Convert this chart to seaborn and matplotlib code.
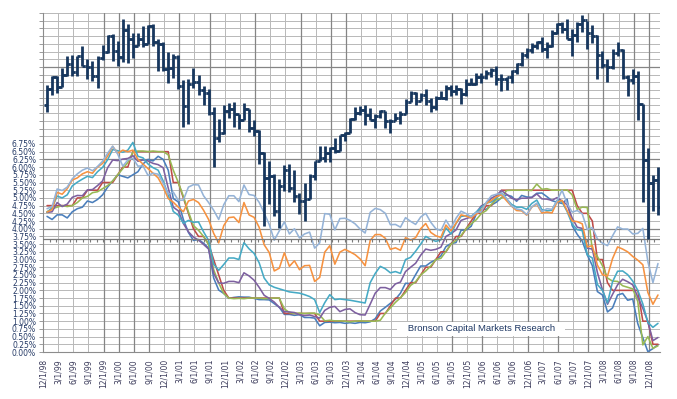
import seaborn as sns
import matplotlib.pyplot as plt
import pandas as pd, numpy as np

## ____ data (month-end values, Dec 1998 .. Jan 2009)
months = pd.date_range("1998-12-01", periods=122, freq="MS")

tbill_3m = [4.40,
    4.30, 4.45, 4.45, 4.35, 4.55, 4.65, 4.70, 4.90, 4.85, 4.95, 5.10, 5.35,
    5.55, 5.75, 5.70, 5.65, 5.75, 5.85, 6.10, 6.25, 6.20, 6.35, 6.25, 5.90,
    4.98, 4.87, 4.30, 3.88, 3.62, 3.65, 3.53, 3.37, 2.40, 2.01, 1.90, 1.74,
    1.77, 1.79, 1.78, 1.78, 1.74, 1.70, 1.70, 1.69, 1.57, 1.45, 1.22, 1.22,
    1.19, 1.21, 1.12, 1.12, 1.10, 0.85, 0.96, 0.97, 0.95, 0.96, 0.93, 0.95,
    0.93, 0.96, 0.95, 0.98, 1.08, 1.33, 1.45, 1.58, 1.71, 1.91, 2.23, 2.22,
    2.51, 2.79, 2.79, 2.91, 2.99, 3.12, 3.42, 3.52, 3.55, 3.95, 3.96, 4.08,
    4.47, 4.62, 4.63, 4.77, 4.86, 5.01, 5.10, 5.05, 4.89, 5.08, 5.03, 5.02,
    5.15, 5.16, 5.04, 4.91, 4.86, 4.82, 4.96, 4.10, 3.82, 3.60, 3.15, 2.80,
    1.96, 1.85, 1.30, 1.43, 1.85, 1.90, 1.68, 1.72, 0.92, 0.46, 0.01, 0.11,
    0.24]

fed_target = [4.75,
    4.75, 4.75, 4.75, 4.75, 4.75, 5.00, 5.00, 5.25, 5.25, 5.25, 5.50, 5.50,
    5.50, 5.75, 6.00, 6.00, 6.50, 6.50, 6.50, 6.50, 6.50, 6.50, 6.50, 6.50,
    5.50, 5.50, 5.00, 4.50, 4.00, 3.75, 3.75, 3.50, 3.00, 2.50, 2.00, 1.75,
    1.75, 1.75, 1.75, 1.75, 1.75, 1.75, 1.75, 1.75, 1.75, 1.75, 1.25, 1.25,
    1.25, 1.25, 1.25, 1.25, 1.25, 1.00, 1.00, 1.00, 1.00, 1.00, 1.00, 1.00,
    1.00, 1.00, 1.00, 1.00, 1.00, 1.25, 1.25, 1.50, 1.75, 1.75, 2.00, 2.25,
    2.25, 2.50, 2.75, 2.75, 3.00, 3.25, 3.25, 3.50, 3.75, 3.75, 4.00, 4.25,
    4.50, 4.50, 4.75, 4.75, 5.00, 5.25, 5.25, 5.25, 5.25, 5.25, 5.25, 5.25,
    5.25, 5.25, 5.25, 5.25, 5.25, 5.25, 5.25, 5.25, 4.75, 4.50, 4.50, 4.25,
    3.00, 3.00, 2.25, 2.00, 2.00, 2.00, 2.00, 2.00, 2.00, 1.00, 1.00, 0.25,
    0.25]

fed_eff = [4.55,
    4.65, 4.70, 4.75, 4.72, 4.75, 4.85, 5.00, 5.05, 5.17, 5.20, 5.30, 5.40,
    5.55, 5.75, 5.95, 6.15, 6.48, 6.52, 6.52, 6.50, 6.52, 6.50, 6.50, 6.40,
    5.90, 5.50, 5.05, 4.55, 4.10, 3.95, 3.75, 3.49, 2.67, 2.24, 1.90, 1.75,
    1.73, 1.74, 1.73, 1.75, 1.75, 1.75, 1.73, 1.74, 1.75, 1.75, 1.40, 1.28,
    1.25, 1.26, 1.25, 1.26, 1.26, 1.20, 1.01, 1.03, 1.01, 1.01, 1.00, 0.98,
    1.00, 1.01, 1.00, 1.00, 1.00, 1.03, 1.26, 1.43, 1.61, 1.76, 1.93, 2.16,
    2.28, 2.50, 2.63, 2.79, 3.00, 3.04, 3.26, 3.50, 3.62, 3.78, 4.00, 4.16,
    4.29, 4.49, 4.59, 4.79, 4.94, 4.99, 5.24, 5.25, 5.25, 5.25, 5.25, 5.24,
    5.45, 5.28, 5.30, 5.25, 5.25, 5.25, 5.26, 5.10, 4.63, 4.70, 4.69, 3.30,
    3.10, 2.80, 2.40, 2.30, 2.29, 2.15, 2.10, 2.05, 1.64, 0.23, 0.50, 0.12,
    0.20]

tsy_1y = [4.53,
    4.55, 4.85, 4.72, 4.80, 5.02, 5.08, 5.07, 5.26, 5.27, 5.40, 5.55, 5.98,
    6.23, 6.21, 6.26, 6.28, 6.37, 6.19, 6.23, 6.20, 6.12, 6.08, 5.98, 5.32,
    4.70, 4.58, 4.17, 3.90, 3.73, 3.63, 3.49, 3.34, 2.55, 2.24, 2.23, 2.29,
    2.29, 2.25, 2.57, 2.47, 2.33, 2.10, 1.84, 1.74, 1.62, 1.45, 1.31, 1.30,
    1.28, 1.21, 1.18, 1.20, 1.15, 1.10, 1.35, 1.45, 1.48, 1.31, 1.38, 1.40,
    1.28, 1.21, 1.20, 1.55, 1.91, 2.09, 2.09, 2.03, 2.21, 2.27, 2.61, 2.75,
    2.88, 3.14, 3.34, 3.30, 3.33, 3.40, 3.75, 3.84, 3.96, 4.27, 4.33, 4.38,
    4.52, 4.74, 4.82, 4.99, 5.08, 5.24, 5.12, 4.99, 4.94, 4.99, 4.99, 5.01,
    5.13, 4.97, 4.96, 4.92, 5.01, 4.90, 4.78, 4.35, 4.05, 4.01, 3.37, 3.34,
    2.58, 2.02, 1.55, 1.87, 2.18, 2.36, 2.28, 2.18, 1.78, 1.42, 0.98, 0.37,
    0.47]

tsy_2y = [4.53,
    4.68, 5.06, 5.00, 5.10, 5.39, 5.51, 5.61, 5.70, 5.66, 5.85, 5.99, 6.24,
    6.57, 6.53, 6.48, 6.55, 6.80, 6.35, 6.30, 6.10, 5.98, 5.90, 5.55, 5.10,
    4.56, 4.44, 4.18, 4.27, 4.21, 4.22, 3.90, 3.62, 2.85, 2.65, 2.84, 3.05,
    3.05, 3.00, 3.55, 3.35, 3.20, 2.90, 2.40, 2.18, 2.10, 2.05, 2.00, 1.95,
    1.93, 1.91, 1.86, 1.80, 1.70, 1.28, 1.60, 1.86, 1.70, 1.72, 1.70, 1.68,
    1.65, 1.62, 1.59, 2.25, 2.55, 2.78, 2.70, 2.57, 2.61, 2.55, 3.00, 3.07,
    3.27, 3.50, 3.75, 3.66, 3.59, 3.64, 4.03, 3.83, 4.17, 4.40, 4.42, 4.40,
    4.54, 4.69, 4.83, 4.87, 4.99, 5.16, 4.97, 4.79, 4.70, 4.70, 4.63, 4.82,
    4.93, 4.62, 4.58, 4.60, 4.92, 4.87, 4.56, 4.15, 3.97, 3.94, 3.15, 3.05,
    2.19, 2.00, 1.59, 2.28, 2.62, 2.63, 2.51, 2.30, 2.00, 1.56, 0.96, 0.80,
    0.93]

tsy_5y = [4.54,
    4.62, 5.18, 5.12, 5.30, 5.58, 5.65, 5.78, 5.85, 5.80, 6.00, 6.12, 6.36,
    6.67, 6.45, 6.55, 6.50, 6.55, 6.25, 6.10, 5.95, 5.80, 5.65, 5.35, 4.98,
    4.86, 4.70, 4.55, 4.90, 4.95, 4.85, 4.60, 4.30, 3.85, 3.54, 4.10, 4.36,
    4.38, 4.20, 4.85, 4.45, 4.37, 4.05, 3.48, 3.23, 2.63, 2.72, 3.22, 2.78,
    2.96, 2.67, 2.80, 2.81, 2.29, 2.42, 3.24, 3.45, 2.85, 3.24, 3.33, 3.25,
    3.16, 3.02, 2.80, 3.62, 3.81, 3.81, 3.69, 3.33, 3.38, 3.30, 3.71, 3.63,
    3.71, 4.00, 4.17, 3.88, 3.77, 3.72, 4.12, 3.93, 4.18, 4.45, 4.41, 4.35,
    4.47, 4.60, 4.82, 4.92, 5.04, 5.10, 4.91, 4.73, 4.59, 4.58, 4.44, 4.70,
    4.80, 4.51, 4.54, 4.51, 4.86, 4.92, 4.59, 4.25, 4.23, 4.16, 3.41, 3.45,
    2.82, 2.51, 2.46, 3.03, 3.41, 3.34, 3.25, 3.10, 2.98, 2.83, 1.93, 1.55,
    1.85]

tsy_10y = [4.65,
    4.72, 5.29, 5.24, 5.35, 5.62, 5.78, 5.90, 5.97, 5.88, 6.02, 6.19, 6.45,
    6.68, 6.42, 6.03, 6.23, 6.29, 6.03, 6.04, 5.73, 5.80, 5.77, 5.48, 5.12,
    5.19, 4.92, 4.93, 5.35, 5.43, 5.42, 5.07, 4.85, 4.60, 4.30, 4.78, 5.07,
    5.07, 4.88, 5.42, 5.11, 5.08, 4.86, 4.51, 4.14, 3.63, 3.93, 4.22, 3.83,
    4.00, 3.70, 3.83, 3.89, 3.37, 3.54, 4.49, 4.47, 3.96, 4.33, 4.34, 4.27,
    4.16, 3.99, 3.86, 4.53, 4.66, 4.62, 4.50, 4.13, 4.14, 4.05, 4.36, 4.24,
    4.14, 4.38, 4.50, 4.21, 4.00, 3.94, 4.28, 4.02, 4.34, 4.57, 4.49, 4.39,
    4.53, 4.55, 4.86, 5.07, 5.12, 5.15, 4.99, 4.74, 4.64, 4.61, 4.46, 4.71,
    4.83, 4.56, 4.65, 4.63, 4.90, 5.25, 4.82, 4.54, 4.59, 4.48, 3.97, 4.04,
    3.67, 3.53, 3.45, 3.77, 4.06, 3.99, 3.99, 3.83, 3.85, 4.01, 2.93, 2.25,
    2.87]

# S&P 500 monthly bars
spx_open = [1163.6,
    1229.2, 1279.6, 1238.3, 1286.4, 1335.2, 1301.8, 1372.7, 1328.7, 1320.4, 1282.7, 1362.9, 1388.9,
    1469.3, 1394.5, 1366.4, 1498.6, 1452.4, 1420.6, 1454.6, 1430.8, 1517.7, 1436.5, 1429.4, 1315.0,
    1320.3, 1366.0, 1239.9, 1160.3, 1249.5, 1255.8, 1224.4, 1211.2, 1133.6, 1040.9, 1059.8, 1139.5,
    1148.1, 1130.2, 1106.7, 1147.4, 1076.9, 1067.1, 989.8, 911.6, 916.1, 815.3, 885.8, 936.3,
    879.8, 855.7, 841.2, 848.2, 916.9, 963.6, 974.5, 990.3, 1008.0, 996.0, 1050.7, 1058.2,
    1111.9, 1131.1, 1144.9, 1126.2, 1107.3, 1120.7, 1140.8, 1101.7, 1104.2, 1114.6, 1130.2, 1173.8,
    1211.9, 1181.3, 1203.6, 1180.6, 1156.9, 1191.5, 1191.3, 1234.2, 1220.3, 1228.8, 1207.0, 1249.5,
    1248.3, 1280.1, 1280.7, 1294.8, 1310.6, 1270.1, 1270.2, 1276.7, 1303.8, 1335.9, 1377.9, 1400.6,
    1418.3, 1438.2, 1406.8, 1420.9, 1482.4, 1530.6, 1503.4, 1455.3, 1474.0, 1526.8, 1549.4, 1481.1,
    1468.4, 1378.6, 1330.6, 1322.7, 1385.6, 1400.4, 1280.0, 1267.4, 1282.8, 1166.4, 968.8, 896.2,
    903.3]
spx_high = [1244.9,
    1283.0, 1283.6, 1316.6, 1371.6, 1375.9, 1372.9, 1420.3, 1357.4, 1351.0, 1373.1, 1422.0, 1473.1,
    1478.0, 1444.6, 1552.9, 1527.2, 1481.5, 1480.5, 1517.3, 1525.2, 1530.1, 1454.8, 1438.5, 1389.1,
    1383.4, 1376.4, 1267.4, 1269.3, 1315.9, 1286.6, 1239.8, 1226.3, 1155.4, 1110.6, 1163.4, 1173.6,
    1176.6, 1130.2, 1173.0, 1147.8, 1106.6, 1070.7, 994.5, 965.0, 924.0, 907.4, 951.6, 954.3,
    935.0, 864.6, 895.9, 924.2, 965.4, 1015.3, 1015.4, 1011.0, 1040.3, 1053.8, 1063.7, 1112.6,
    1155.4, 1159.0, 1163.2, 1150.6, 1127.7, 1146.3, 1140.8, 1109.1, 1131.5, 1142.1, 1188.5, 1217.9,
    1217.8, 1212.4, 1229.1, 1191.9, 1199.6, 1219.6, 1245.2, 1245.9, 1243.1, 1233.3, 1270.6, 1275.8,
    1294.9, 1297.6, 1310.9, 1318.2, 1326.7, 1290.7, 1280.4, 1307.9, 1340.3, 1389.5, 1407.9, 1431.8,
    1441.6, 1461.6, 1438.9, 1498.0, 1535.6, 1540.6, 1555.9, 1503.9, 1538.7, 1576.1, 1545.8, 1523.6,
    1471.8, 1396.0, 1359.7, 1404.6, 1440.2, 1404.1, 1285.3, 1313.2, 1303.0, 1167.0, 1007.5, 918.9,
    943.9]
spx_low = [1136.9,
    1205.5, 1211.9, 1234.7, 1282.2, 1281.4, 1281.4, 1328.0, 1268.7, 1263.0, 1233.7, 1354.0, 1387.4,
    1350.1, 1325.1, 1346.6, 1339.4, 1361.1, 1420.6, 1416.5, 1430.8, 1419.4, 1305.8, 1305.4, 1254.1,
    1274.6, 1228.9, 1081.2, 1091.9, 1232.0, 1203.0, 1165.5, 1124.9, 944.8, 1026.8, 1054.3, 1114.5,
    1081.7, 1074.4, 1106.7, 1063.5, 1048.8, 952.9, 775.7, 833.4, 800.2, 768.6, 872.1, 869.5,
    840.7, 806.3, 788.9, 847.8, 902.8, 963.6, 962.1, 960.8, 990.4, 996.0, 1031.2, 1058.2,
    1105.1, 1124.4, 1087.2, 1107.2, 1076.3, 1113.3, 1078.8, 1060.7, 1101.3, 1090.2, 1127.6, 1173.8,
    1163.8, 1180.0, 1163.7, 1136.2, 1146.2, 1188.3, 1183.6, 1201.1, 1205.4, 1168.2, 1201.1, 1246.6,
    1245.7, 1253.6, 1268.4, 1280.7, 1245.3, 1219.3, 1224.5, 1253.7, 1290.9, 1327.1, 1360.9, 1385.9,
    1403.9, 1389.1, 1364.0, 1416.4, 1476.7, 1484.2, 1454.3, 1370.6, 1439.3, 1489.6, 1406.1, 1435.7,
    1270.1, 1316.8, 1257.0, 1312.5, 1373.1, 1272.0, 1200.4, 1247.5, 1106.4, 839.8, 741.0, 815.7,
    804.5]
spx_close = [1229.2,
    1279.6, 1238.3, 1286.4, 1335.2, 1301.8, 1372.7, 1328.7, 1320.4, 1282.7, 1362.9, 1388.9, 1469.3,
    1394.5, 1366.4, 1498.6, 1452.4, 1420.6, 1454.6, 1430.8, 1517.7, 1436.5, 1429.4, 1315.0, 1320.3,
    1366.0, 1239.9, 1160.3, 1249.5, 1255.8, 1224.4, 1211.2, 1133.6, 1040.9, 1059.8, 1139.5, 1148.1,
    1130.2, 1106.7, 1147.4, 1076.9, 1067.1, 989.8, 911.6, 916.1, 815.3, 885.8, 936.3, 879.8,
    855.7, 841.2, 848.2, 916.9, 963.6, 974.5, 990.3, 1008.0, 996.0, 1050.7, 1058.2, 1111.9,
    1131.1, 1144.9, 1126.2, 1107.3, 1120.7, 1140.8, 1101.7, 1104.2, 1114.6, 1130.2, 1173.8, 1211.9,
    1181.3, 1203.6, 1180.6, 1156.9, 1191.5, 1191.3, 1234.2, 1220.3, 1228.8, 1207.0, 1249.5, 1248.3,
    1280.1, 1280.7, 1294.8, 1310.6, 1270.1, 1270.2, 1276.7, 1303.8, 1335.9, 1377.9, 1400.6, 1418.3,
    1438.2, 1406.8, 1420.9, 1482.4, 1530.6, 1503.4, 1455.3, 1474.0, 1526.8, 1549.4, 1481.1, 1468.4,
    1378.6, 1330.6, 1322.7, 1385.6, 1400.4, 1280.0, 1267.4, 1282.8, 1166.4, 968.8, 896.2, 903.3,
    825.9]

series_names = ["3M T-Bill", "Fed Funds Target", "Fed Funds Eff", "1Y", "2Y", "5Y", "10Y"]
series_vals = [tbill_3m, fed_target, fed_eff, tsy_1y, tsy_2y, tsy_5y, tsy_10y]
colors = ["#4A7EBB", "#BE4B48", "#98B954", "#7D60A0", "#46AAC5", "#F69240", "#95B3D7"]

## ____ style
sns.set_theme(style="white")
plt.rcParams["font.family"] = ["DejaVu Sans"]

fig = plt.figure(figsize=(6.77, 3.99), dpi=100)
ax = fig.add_axes([43 / 677, 47 / 399, 617 / 677, 339 / 399])

idx = np.arange(len(months))
df = pd.concat([pd.DataFrame({"m": idx, "rate": v, "series": n})
                for n, v in zip(series_names, series_vals)])

sns.lineplot(data=df, x="m", y="rate", hue="series", hue_order=series_names,
             palette=dict(zip(series_names, colors)), linewidth=1.15,
             legend=False, errorbar=None, ax=ax, zorder=3)

# axes / grid
ax.set_xlim(-0.8, 121.4)
ax.set_ylim(0, 11)
qpos = idx[::3] - 0.8
qlab = [f"{d.month}/1/{d.year % 100:02d}" for d in months[::3]]
ax.set_xticks(qpos)
ax.set_xticklabels(qlab, rotation=90, fontsize=5.5, color="#3a3a5a")
yt = np.arange(0, 11.01, 0.25)
ax.set_yticks(yt)
ax.set_yticklabels([f"{v:.2f}%" if v <= 6.76 else "" for v in yt],
                   fontsize=5.5, color="#253a66")
ax.tick_params(axis="both", length=3, width=0.6, color="#8c8c8c", pad=2)
ax.set_xlabel("")
ax.set_ylabel("")
ax.grid(True, color="#b8b8b8", linewidth=0.7)
ax.set_axisbelow(True)
for q in [4, 5, 6, 7, 9, 11, 14, 17, 19, 20, 27, 29, 32, 34, 36, 37, 39, 40]:
    ax.axvline(qpos[q], color="#858585", linewidth=0.9, zorder=0.6)
for h in [4.0, 6.25, 9.25]:
    ax.axhline(h, color="#858585", linewidth=0.9, zorder=0.6)
for s in ["top", "right"]:
    ax.spines[s].set_visible(False)
for s in ["left", "bottom"]:
    ax.spines[s].set_color("#8c8c8c")
    ax.spines[s].set_linewidth(0.8)

ax.text(0.71, 0.068, "   Bronson Capital Markets Research   ", transform=ax.transAxes,
        ha="center", va="center", fontsize=6.8, color="#1F3864",
        family=["Liberation Sans", "DejaVu Sans"],
        bbox=dict(boxstyle="square,pad=0.3", facecolor="white", edgecolor="none"),
        zorder=2.5)

## ____ S&P bars on a log twin axis
ax2 = ax.twinx()
ax2.set_yscale("log")
ax2.set_ylim(507, 1586)
ax2.set_xlim(ax.get_xlim())
ax2.axis("off")
ax2.axhline(741, color="#7a7a7a", linewidth=0.9)
ax2.vlines(np.arange(0.5, 121.4, 1.33), 733.5, 741, color="#7a7a7a", linewidth=0.8)
bar_c = "#17375E"
ax2.vlines(idx, spx_low, spx_high, color=bar_c, linewidth=2.0)
ax2.hlines(spx_open, idx - 0.55, idx, color=bar_c, linewidth=2.0)
ax2.hlines(spx_close, idx, idx + 0.55, color=bar_c, linewidth=2.0)

plt.savefig("out.png", dpi=100)
